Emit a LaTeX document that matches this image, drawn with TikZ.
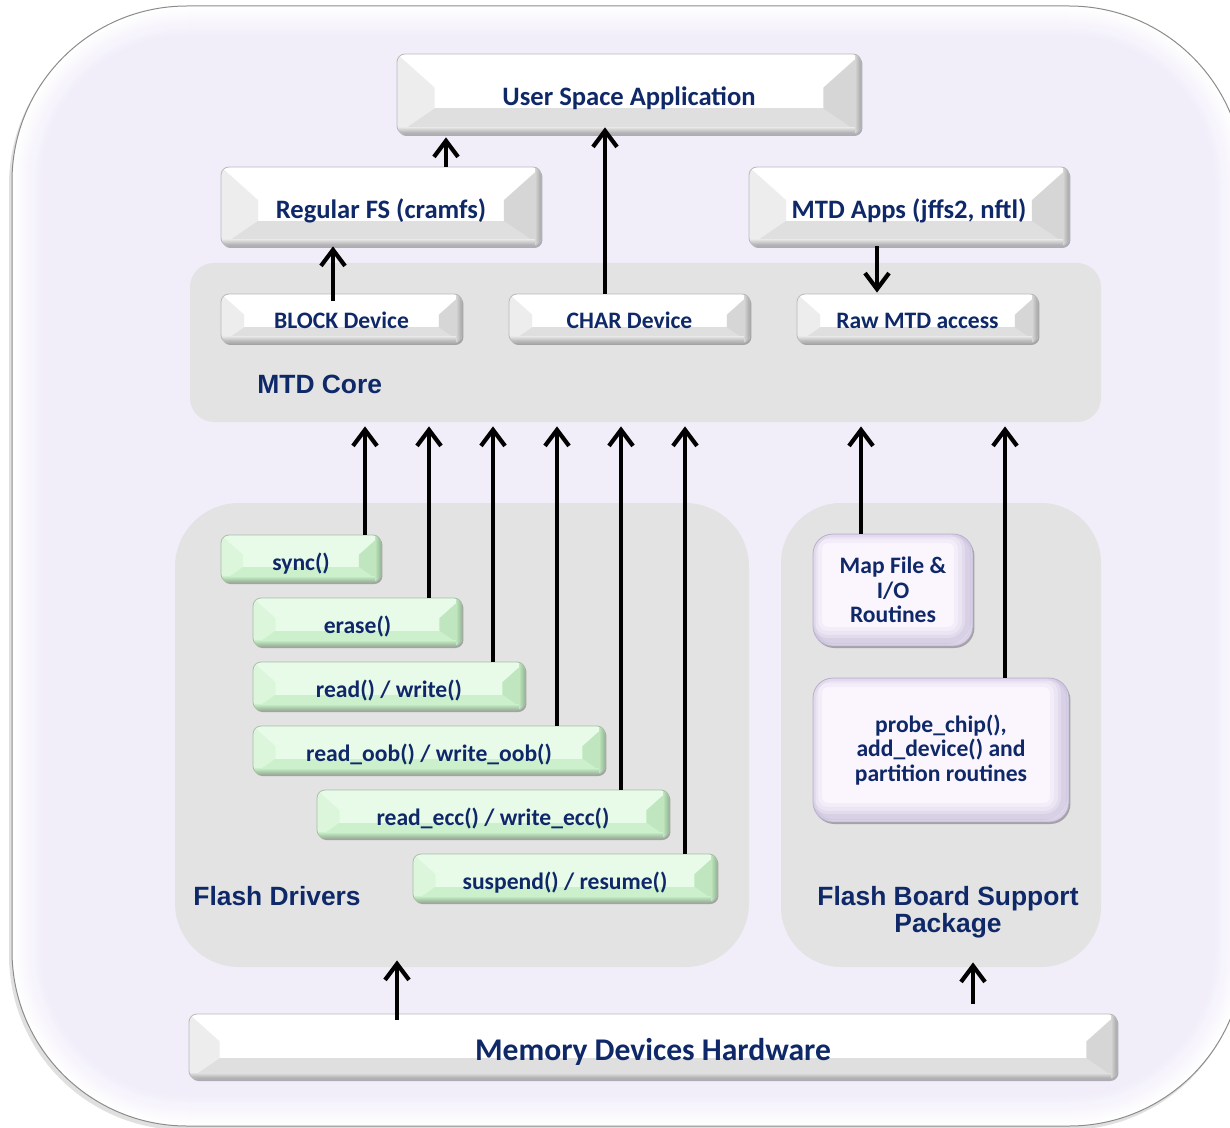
\documentclass[tikz,border=0pt]{standalone}
\usepackage{fontspec}
\newfontfamily\calib{Carlito}
\newfontfamily\arialish{Liberation Sans}
\usetikzlibrary{calc,arrows.meta,shadows}

\definecolor{navy}{RGB}{14,40,104}
\definecolor{lav}{RGB}{241,238,250}
\definecolor{panelgray}{RGB}{227,227,227}
% grey bevel buttons
\definecolor{btnlow}{RGB}{223,223,223}
\definecolor{btnleft}{RGB}{237,237,237}
\definecolor{btnright}{RGB}{214,214,214}
\definecolor{btnedge}{RGB}{165,165,165}
\definecolor{btnline}{RGB}{185,185,185}
% green bevel buttons
\definecolor{grntop}{RGB}{232,251,232}
\definecolor{grnlow}{RGB}{204,239,204}
\definecolor{grnleft}{RGB}{220,246,220}
\definecolor{grnright}{RGB}{192,230,192}
\definecolor{grnedge}{RGB}{145,182,145}
\definecolor{grnline}{RGB}{165,192,165}
% lilac pillow boxes
\definecolor{purbase}{RGB}{251,245,254}
\definecolor{purshade}{RGB}{150,138,185}
\definecolor{purline}{RGB}{185,176,204}

\newcommand\txtbig{\calib\bfseries\fontsize{13.3}{14}\selectfont}
\newcommand\txtmid{\calib\bfseries\fontsize{11.8}{12.4}\selectfont}
\newcommand\txtmem{\calib\bfseries\fontsize{15.8}{17}\selectfont}
\newcommand\txtlbl{\arialish\bfseries\fontsize{13.2}{13.6}\selectfont}

% faceted button face, painted inside the node outline
\newcommand\bevelpaint[5]{%
  \coordinate (pNW) at (path picture bounding box.north west);
  \coordinate (pSE) at (path picture bounding box.south east);
  \coordinate (pSW) at (path picture bounding box.south west);
  \coordinate (pNE) at (path picture bounding box.north east);
  \coordinate (pLa) at ($(pNW)!0.42!(pSW)$);
  \coordinate (pLb) at ($(pNW)!0.68!(pSW)$);
  \coordinate (pRa) at ($(pNE)!0.42!(pSE)$);
  \coordinate (pRb) at ($(pNE)!0.68!(pSE)$);
  \fill[#1, sharp corners] (pNW) rectangle (pSE);
  \fill[#2, sharp corners] (pLb) rectangle (pSE);
  \fill[#3, sharp corners] (pNW) -- ([xshift=\fw pt]pLa) -- ([xshift=\fw pt]pLb) -- (pSW) -- cycle;
  \fill[#4, sharp corners] (pNE) -- ([xshift=-\fw pt]pRa) -- ([xshift=-\fw pt]pRb) -- (pSE) -- cycle;
  \shade[sharp corners, top color=#2, bottom color=#5] ([yshift=3pt]pSW) rectangle (pSE);
  \shade[sharp corners, left color=#4, right color=#5] ([xshift=-3pt]pNE) rectangle (pSE);
}
% soft cushion face with an inner shade on the lower right
\newcommand\pillowpaint{%
  \fill[purbase, sharp corners] (path picture bounding box.south west) rectangle (path picture bounding box.north east);
  \foreach \w/\o in {14/0.07, 10/0.08, 6/0.10, 3/0.12} {
    \draw[purshade, line width=\w pt, opacity=\o, rounded corners=10pt]
      ([shift={(-2.5pt,2.5pt)}]path picture bounding box.south west) rectangle ([shift={(-2.5pt,2.5pt)}]path picture bounding box.north east);
  }
  \draw[purshade, line width=3pt, opacity=0.10, rounded corners=10pt]
    (path picture bounding box.south west) rectangle (path picture bounding box.north east);
}

\tikzset{
  boxbase/.style={inner sep=0pt, align=center, text=navy,
    drop shadow={shadow xshift=0.7pt, shadow yshift=-1pt, opacity=0.28, fill=black}},
  btn/.style={boxbase, rounded corners=4pt, draw=btnline, line width=0.4pt,
    path picture={\bevelpaint{white}{btnlow}{btnleft}{btnright}{btnedge}}},
  gbtn/.style={boxbase, rounded corners=4pt, draw=grnline, line width=0.4pt,
    font=\txtmid, text height=11.5pt, text depth=0pt,
    path picture={\bevelpaint{grntop}{grnlow}{grnleft}{grnright}{grnedge}}},
  pbtn/.style={boxbase, rounded corners=10pt, draw=purline, line width=0.4pt, font=\txtmid,
    path picture={\pillowpaint}},
  bigtext/.style={font=\txtbig, text height=11.8pt, text depth=0pt},
  midtext/.style={font=\txtmid, text height=10.4pt, text depth=0pt},
  memtext/.style={font=\txtmem, text height=13.8pt, text depth=0pt},
  panel/.style={fill=panelgray, inner sep=0pt},
  lbl/.style={font=\txtlbl, text=navy, inner sep=0pt, align=center},
  arr/.style={line width=1.6pt, -{Straight Barb[length=8pt,width=12pt,line width=2.1pt]}},
}

% name, x1, y1, x2, y2, style, text   (pixel grid, y downwards)
\newcommand\placebox[7]{%
  \pgfmathsetmacro\bw{(#4-#2)*0.5}%
  \pgfmathsetmacro\bh{(#5-#3)*0.5}%
  \pgfmathsetmacro\fw{0.47*\bh}%
  \node[#6, minimum width=\bw pt, minimum height=\bh pt] (#1) at ({(#2+#4)/2},{(#3+#5)/2}) {#7};}

\begin{document}
\begin{tikzpicture}[x=0.5pt,y=-0.5pt]
\useasboundingbox (0,0) rectangle (1230,1128);
\fill[white] (0,0) rectangle (1230,1128);
\clip (0,0) rectangle (1230,1128);

% outer frame with a soft white rim
\fill[black, opacity=0.12, rounded corners=87.5pt] (9,10) rectangle (1242,1130);
\fill[white, rounded corners=87.5pt] (12,6) rectangle (1244,1126);
\foreach \i in {1,...,15} {
  \pgfmathsetmacro\ins{2*\i}
  \pgfmathsetmacro\rad{(175-\ins)*0.5}
  \pgfmathtruncatemacro\mix{100*\i/15}
  \fill[lav!\mix!white, rounded corners=\rad pt] (12+\ins,6+\ins) rectangle (1244-\ins,1126-\ins);
}
\draw[black!45, line width=0.5pt, rounded corners=87.5pt] (12,6) rectangle (1244,1126);

% grey layer panels
\placebox{mtdcore}{190}{263}{1101}{422}{panel, rounded corners=12pt}{}
\placebox{flashdrv}{175}{503}{749}{967}{panel, rounded corners=32pt}{}
\placebox{bsp}{781}{503}{1101}{967}{panel, rounded corners=30pt}{}

\node[lbl, anchor=west] (mtdlbl) at (257,384) {MTD Core};
\node[lbl, anchor=west] (fdlbl) at (193,896) {Flash Drivers};
\node[lbl] (bsplbl) at (948,912) {Flash Board Support\\Package};

% upper layers
\placebox{usa}{397}{54}{861}{134}{btn, bigtext}{User Space Application}
\placebox{regfs}{221}{167}{541}{246}{btn, bigtext}{Regular FS (cramfs)}
\placebox{mtdapps}{749}{167}{1069}{246}{btn, bigtext}{MTD Apps (jffs2, nftl)}
\placebox{blockdev}{221}{294}{462}{343}{btn, midtext}{BLOCK Device}
\placebox{chardev}{509}{294}{750}{343}{btn, midtext}{CHAR Device}
\placebox{rawmtd}{797}{294}{1038}{343}{btn, midtext}{Raw MTD access}

% driver entry points
\placebox{sync}{221}{535}{381}{582}{gbtn}{sync()}
\placebox{erase}{253}{598}{462}{646}{gbtn}{erase()}
\placebox{rw}{253}{662}{525}{710}{gbtn}{read() / write()}
\placebox{oob}{253}{726}{605}{774}{gbtn}{read\_oob() / write\_oob()}
\placebox{ecc}{317}{790}{669}{838}{gbtn}{read\_ecc() / write\_ecc()}
\placebox{susp}{413}{854}{717}{902}{gbtn}{suspend() / resume()}

% board support routines
\placebox{mapfile}{813}{534}{973}{646}{pbtn}{Map File \&\\I/O\\Routines}
\placebox{probe}{813}{678}{1069}{822}{pbtn}{probe\_chip(),\\add\_device() and\\partition routines}

% hardware
\placebox{memhw}{189}{1014}{1117}{1079}{btn, memtext}{Memory Devices Hardware}

% connectors
\path ([xshift=32.5pt]regfs.north) coordinate (c1)
      ([xshift=-12.25pt]chardev.north) coordinate (c2)
      ([xshift=-4.25pt]blockdev.north) coordinate (c3)
      ([xshift=-16pt]mtdapps.south) coordinate (c4)
      ([xshift=32pt]sync.north) coordinate (f1)
      ([xshift=35.75pt]erase.north) coordinate (f2)
      ([xshift=52pt]rw.north) coordinate (f3)
      ([xshift=64pt]oob.north) coordinate (f4)
      ([xshift=64pt]ecc.north) coordinate (f5)
      ([xshift=60pt]susp.north) coordinate (f6)
      ([xshift=-16pt]mapfile.north) coordinate (f7)
      ([xshift=32pt]probe.north) coordinate (f8)
      ([xshift=-128pt]memhw.north) coordinate (h1)
      ([xshift=160pt]memhw.north) coordinate (h2);

\draw[arr, shorten >=1.5pt] (c1) -- (c1 |- usa.south);
\draw[arr, shorten >=-3.5pt] (c2) -- (c2 |- usa.south);
\draw[arr, shorten <=-3.5pt] (c3) -- (c3 |- regfs.south);
\draw[arr, shorten >=0.5pt] (c4) -- (c4 |- rawmtd.north);
\foreach \f in {f1,f2,f3,f4,f5,f6,f7,f8}
  \draw[arr, shorten >=2pt] (\f) -- (\f |- mtdcore.south);
\draw[arr, shorten <=-3pt, shorten >=-3.5pt] (h1) -- (h1 |- flashdrv.south);
\draw[arr, shorten <=5pt, shorten >=-2.5pt] (h2) -- (h2 |- bsp.south);
\end{tikzpicture}
\end{document}
